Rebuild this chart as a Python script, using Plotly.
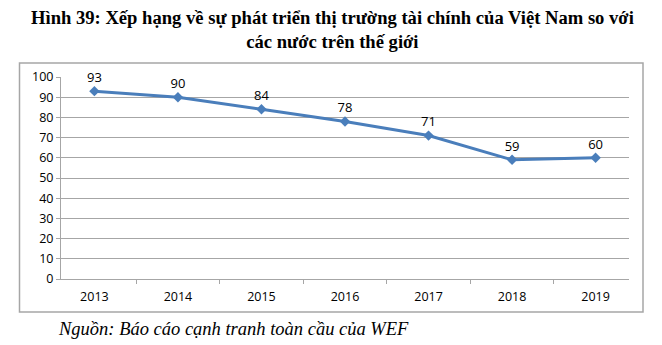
import plotly.graph_objects as go

years = ["2013", "2014", "2015", "2016", "2017", "2018", "2019"]
ranks = [93, 90, 84, 78, 71, 59, 60]
y_ticks = list(range(0, 101, 10))

title_text = "Hình 39: Xếp hạng về sự phát triển thị trường tài chính của Việt Nam so với<br>các nước trên thế giới"
source_text = "Nguồn: Báo cáo cạnh tranh toàn cầu của WEF"

W, H = 662, 345
L, R, T, B = 61, 33, 77, 66
pw, ph = W - L - R, H - T - B

def px(x):
    return (x - L) / pw

def py(y):
    return (H - B - y) / ph

tick_font = dict(family="Open Sans, Lato, sans-serif", size=12.5, color="#000000")

fig = go.Figure()
fig.add_trace(go.Scatter(
    x=years, y=ranks, mode="lines+markers+text",
    text=[str(v) for v in ranks], textposition="top center",
    textfont=dict(family="Open Sans, Lato, sans-serif", size=13, color="#000000"),
    line=dict(color="#4A7EBB", width=3),
    marker=dict(symbol="diamond", size=8, color="#4A7EBB"),
    cliponaxis=False, showlegend=False,
))

fig.update_layout(
    width=W, height=H,
    margin=dict(l=L, r=R, t=T, b=B),
    paper_bgcolor="white", plot_bgcolor="white",
    xaxis=dict(
        type="category", tickson="boundaries", ticks="outside", ticklen=4,
        tickcolor="#A6A6A6", showline=True, linecolor="#A6A6A6", linewidth=1,
        showgrid=False, tickfont=tick_font, ticklabelstandoff=6,
        fixedrange=True,
    ),
    yaxis=dict(
        range=[0, 100], tickvals=y_ticks, ticks="outside", ticklen=4,
        tickcolor="#A6A6A6", showline=True, linecolor="#A6A6A6", linewidth=1,
        showgrid=True, gridcolor="#A6A6A6", gridwidth=1, zeroline=False,
        tickfont=tick_font,
        fixedrange=True,
    ),
    shapes=[dict(
        type="rect", xref="paper", yref="paper",
        x0=px(19.5), x1=px(643), y0=py(312), y1=py(63),
        line=dict(color="#A6A6A6", width=1.5), fillcolor="rgba(0,0,0,0)", layer="below",
    )],
    annotations=[
        dict(text="<b>" + title_text.replace("<br>", "</b><br><b>") + "</b>",
             xref="paper", yref="paper", x=px(332), y=py(29),
             xanchor="center", yanchor="middle", showarrow=False,
             font=dict(family="Liberation Serif, Times New Roman, serif", size=18.6, color="#000000"),
             align="center"),
        dict(text="<i>" + source_text + "</i>",
             xref="paper", yref="paper", x=px(56), y=py(329),
             xanchor="left", yanchor="middle", showarrow=False,
             font=dict(family="Liberation Serif, Times New Roman, serif", size=18.5, color="#000000")),
    ],
)

fig.write_html("out.html")
